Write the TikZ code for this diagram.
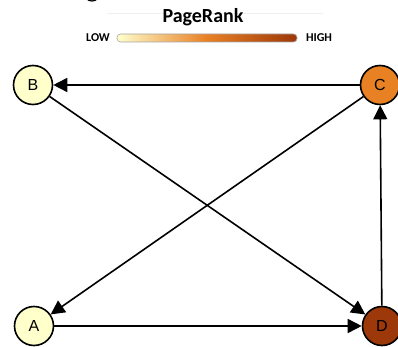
\documentclass[tikz,border=0pt]{standalone}
\usepackage{fontspec}
\setmainfont{Liberation Sans}
\newfontfamily\titlefont{Carlito}
\usetikzlibrary{arrows.meta}
\definecolor{lowrank}{RGB}{255,255,204}
\definecolor{midrank}{RGB}{232,128,36}
\definecolor{highrank}{RGB}{156,56,10}
\begin{document}
\begin{tikzpicture}[x=1pt, y=-1pt,
    page/.style={circle, draw=black, line width=1.6pt, minimum size=39pt, inner sep=0pt,
                 font=\fontsize{16}{18}\selectfont},
    legend/.style={font=\titlefont\bfseries\fontsize{12}{13}\selectfont},
    link/.style={line width=1.6pt, -{Triangle[length=14pt,width=14pt]}}]
        \useasboundingbox (0,0) rectangle (398,347);
        \clip (0,0) rectangle (398,347);
        % legend
        \draw[black!6, line width=0.8pt] (107,13) -- (323,13);
        \draw[line width=1.2pt] (92,-7) circle (8);
        \node (title) at (203,17) {\titlefont\bfseries\fontsize{20}{22}\selectfont PageRank};
        \shade[left color=lowrank, right color=highrank, middle color=midrank, rounded corners=3.5pt,
               draw=black!35, line width=0.6pt] (117,34) rectangle (297,42);
        \node[legend] (low) at (98,38) {LOW};
        \node[legend] (high) at (319,38) {HIGH};
        % pages
        \node[page, fill=lowrank] (B) at (33,85) {B};
        \node[page, fill=midrank] (C) at (380,85) {C};
        \node[page, fill=lowrank] (A) at (34,326) {A};
        \node[page, fill=highrank] (D) at (382,326) {D};
        % links
        \draw[link] (C) -- (B);
        \draw[link] (C) -- (A);
        \draw[link] (B) -- (D);
        \draw[link] (A) -- (D);
        \draw[link] (D) -- (C);
\end{tikzpicture}
\end{document}
